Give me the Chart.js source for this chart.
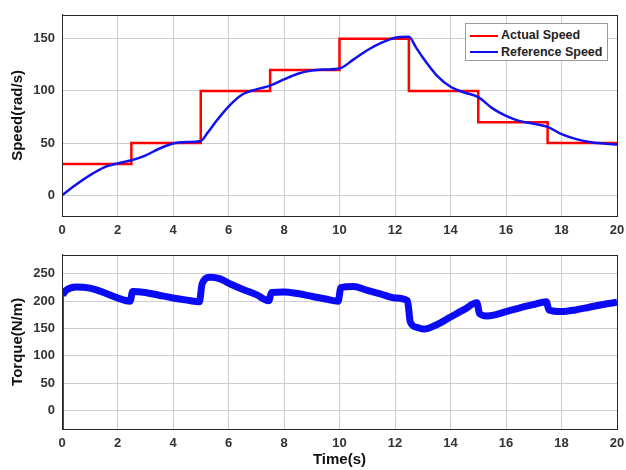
<!DOCTYPE html>
<html>
<head>
<meta charset="utf-8">
<script src="https://cdn.jsdelivr.net/npm/chart.js@4.4.1/dist/chart.umd.min.js"></script>
<style>
  html, body { margin: 0; padding: 0; background: #fff; }
  #wrap { position: relative; width: 626px; height: 470px; overflow: hidden;
          font-family: "Liberation Sans", Arial, Helvetica, sans-serif; }
  canvas { position: absolute; left: 0; }
  #speedChart { top: 0; }
  #torqueChart { top: 240px; }
  .legend { position: absolute; left: 465px; top: 23px; width: 141px; height: 36px;
            border: 1px solid #9a9a9a; background: #fff; font-weight: bold;
            font-size: 12.5px; color: #222; }
  .legend .row { position: absolute; left: 4px; height: 16px; line-height: 16px; white-space: nowrap; }
  .legend .swatch { display: inline-block; width: 28px; height: 0; border-top: 2.5px solid;
                    vertical-align: middle; margin-right: 3px; }
</style>
</head>
<body>
<div id="wrap">
  <canvas id="speedChart" width="626" height="240"></canvas>
  <canvas id="torqueChart" width="626" height="230"></canvas>
  <div class="legend">
    <div class="row" style="top:3px"><span class="swatch" style="border-color:#ff0000"></span>Actual Speed</div>
    <div class="row" style="top:19.5px"><span class="swatch" style="border-color:#1010f0"></span>Reference Speed</div>
  </div>
</div>
<script>
// axis ticks
const timeTicks = [0, 2, 4, 6, 8, 10, 12, 14, 16, 18, 20];
const speedTicks = [0, 50, 100, 150];
const torqueTicks = [0, 50, 100, 150, 200, 250];

// red stepped speed (value holds until next step time)
const stepTime = [0, 2.5, 5, 7.5, 10, 12.5, 15, 17.5, 20];
const actualSpeed = [30, 50, 100, 120, 150, 100, 70, 50, 50];

// blue smooth speed
const refTime = [0, 0.5, 1, 1.5, 2, 2.5, 3, 3.5, 4, 4.5, 5, 5.25, 5.5, 6, 6.5, 7, 7.5, 8, 8.5, 9, 9.5, 10,
                 10.5, 11, 11.5, 12, 12.5, 12.75, 13, 13.5, 14, 14.5, 15, 15.5, 16, 16.5, 17, 17.5, 18, 18.5, 19, 19.5, 20];
const referenceSpeed = [0, 10, 19, 26.5, 30.5, 33.5, 38, 44.5, 49.5, 51, 52, 60, 69, 85, 96.5, 101.5, 105, 111, 116.5, 119.5, 120.5, 121.5,
                        130, 139, 146, 151, 152, 142, 132, 115, 104, 98.5, 94, 83.5, 76, 71, 68.5, 65.5, 58.5, 54, 51, 49.5, 48.5];

// torque
const startTime = [0.03, 0.03];
const startTorque = [-34, 212];
const torqueTime = [0.02, 0.15, 0.5, 1, 1.5, 2, 2.45, 2.55, 3, 3.5, 4, 4.5, 4.95, 5.05, 5.35, 5.7, 6, 6.5, 7, 7.45, 7.55,
                    8, 8.5, 9, 9.5, 9.95, 10.05, 10.5, 11, 11.5, 12, 12.45, 12.55, 12.8, 13.05, 13.5, 14, 14.5, 14.95,
                    15.05, 15.3, 15.6, 16, 16.5, 17, 17.45, 17.55, 18, 18.5, 19, 19.5, 20];
const torque = [212, 220, 226, 224, 216, 206, 200, 218, 216, 211, 206, 202, 199, 232, 244, 241, 233, 222, 212, 201, 216,
                217, 214, 209, 204, 200, 225, 227, 220, 213, 206, 201, 162, 152, 149, 157, 171, 185, 197,
                177, 173, 175, 181, 188, 194, 199, 184, 181, 184, 189, 194, 198];

const pts = (xs, ys) => xs.map((x, i) => ({ x, y: ys[i] }));

Chart.defaults.font.family = '"Liberation Sans", Arial, Helvetica, sans-serif';
Chart.defaults.animation = false;

const frame = {
    id: 'frame',
    afterDraw(chart) {
        const { ctx, chartArea: a } = chart;
        ctx.save();
        ctx.strokeStyle = '#262626';
        ctx.lineWidth = 1;
        ctx.strokeRect(Math.round(a.left) + 0.5, Math.round(a.top) + 0.5,
                       Math.round(a.right - a.left), Math.round(a.bottom - a.top));
        ctx.restore();
    },
};

const tickFont = { size: 13, weight: 'bold' };
const titleFont = { size: 15, weight: 'bold' };

function xAxis(height, title) {
    return {
        type: 'linear', min: 0, max: 20,
        afterBuildTicks: s => { s.ticks = timeTicks.map(v => ({ value: v })); },
        afterFit: s => { s.height = height; s.paddingLeft = 0; s.paddingRight = 0; },
        grid: { color: '#cdcdcd', drawTicks: false },
        border: { color: '#262626' },
        ticks: { color: '#333', font: tickFont, padding: 7, maxRotation: 0 },
        title: title ? { display: true, text: title, color: '#111', font: titleFont, padding: { top: 0, bottom: 1 } }
                     : { display: false },
    };
}

function yAxis(min, max, ticks, title) {
    return {
        min, max,
        afterBuildTicks: s => { s.ticks = ticks.map(v => ({ value: v })); },
        afterFit: s => { s.width = 62; },
        grid: { color: '#cdcdcd', drawTicks: false },
        border: { color: '#262626' },
        ticks: { color: '#333', font: tickFont, padding: 7 },
        title: { display: true, text: title, color: '#111', font: titleFont, padding: { top: 9, bottom: 0 } },
    };
}

new Chart(document.getElementById('speedChart'), {
    type: 'line',
    data: {
        datasets: [
            {
                label: 'Reference Speed',
                data: pts(refTime, referenceSpeed),
                borderColor: '#1010f0',
                borderWidth: 2.5,
                pointRadius: 0,
                cubicInterpolationMode: 'monotone',
            },
            {
                label: 'Actual Speed',
                data: pts(stepTime, actualSpeed),
                borderColor: '#ff0000',
                borderWidth: 2.5,
                pointRadius: 0,
                stepped: 'before',
            },
        ],
    },
    options: {
        responsive: false,
        layout: { padding: { top: 13, right: 9, left: 0, bottom: 0 } },
        plugins: { legend: { display: false }, tooltip: { enabled: false } },
        scales: {
            x: xAxis(24, null),
            y: yAxis(-20, 173, speedTicks, 'Speed(rad/s)'),
        },
    },
    plugins: [frame],
});

new Chart(document.getElementById('torqueChart'), {
    type: 'line',
    data: {
        datasets: [
            {
                label: 'Torque',
                data: pts(torqueTime, torque),
                borderColor: '#0a0af5',
                borderWidth: 7,
                pointRadius: 0,
                cubicInterpolationMode: 'monotone',
            },
            {
                label: 'Torque start',
                data: pts(startTime, startTorque),
                borderColor: '#0a0af5',
                borderWidth: 2,
                pointRadius: 0,
            },
        ],
    },
    options: {
        responsive: false,
        layout: { padding: { top: 8, right: 9, left: 0, bottom: 0 } },
        plugins: { legend: { display: false }, tooltip: { enabled: false } },
        scales: {
            x: xAxis(41, 'Time(s)'),
            y: yAxis(-34, 285, torqueTicks, 'Torque(N/m)'),
        },
    },
    plugins: [frame],
});
</script>
</body>
</html>
